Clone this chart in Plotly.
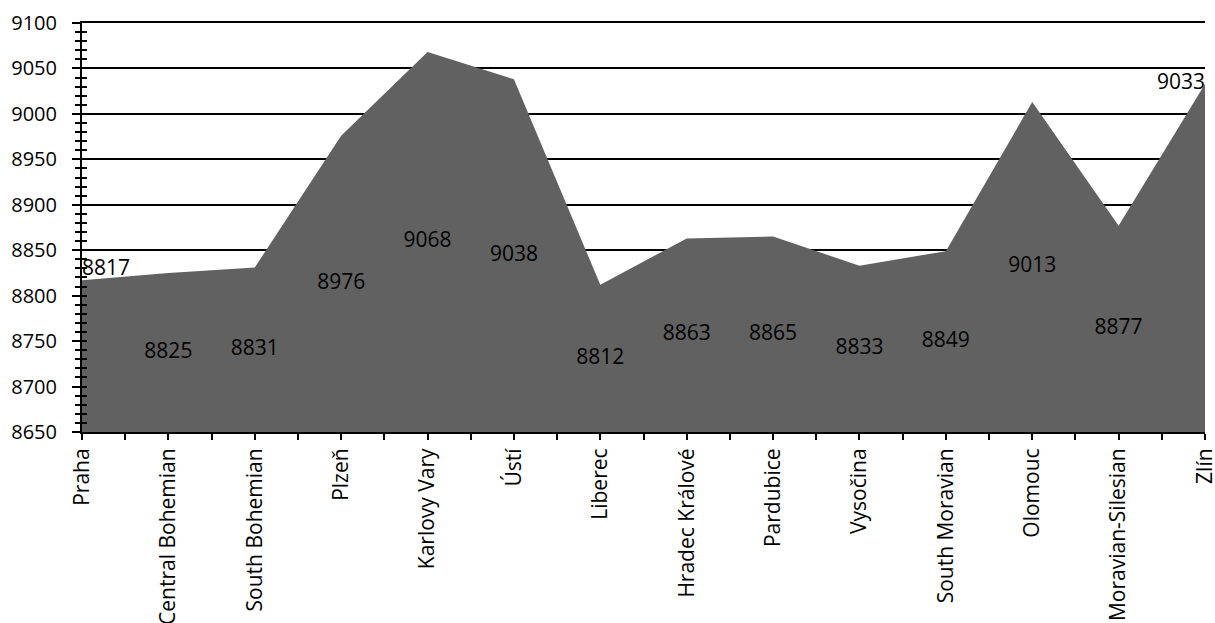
import plotly.graph_objects as go

regions = ["Praha", "Central Bohemian", "South Bohemian", "Plzeň", "Karlovy Vary",
           "Ústí", "Liberec", "Hradec Králové", "Pardubice", "Vysočina",
           "South Moravian", "Olomouc", "Moravian-Silesian", "Zlín"]
values = [8817, 8825, 8831, 8976, 9068, 9038, 8812, 8863, 8865, 8833, 8849, 9013, 8877, 9033]

y_min, y_max = 8650, 9100
xs = list(range(len(regions)))

FONT = "Open Sans"
fig = go.Figure()

# filled area
fig.add_trace(go.Scatter(
    x=xs, y=values, mode="lines", fill="tozeroy",
    line=dict(width=0, color="#616161"), fillcolor="#616161",
    hoverinfo="skip", showlegend=False,
))

# value labels: first and last at the point, the rest centred in the area
mid_x = xs[1:-1]
mid_y = [(v + y_min) / 2 for v in values[1:-1]]
fig.add_trace(go.Scatter(
    x=mid_x, y=mid_y, mode="text", text=[str(v) for v in values[1:-1]],
    textposition="middle center", textfont=dict(family=FONT, size=21, color="black"),
    hoverinfo="skip", showlegend=False,
))
fig.add_trace(go.Scatter(
    x=[xs[0]], y=[values[0]], mode="text", text=[str(values[0])],
    textposition="top right", textfont=dict(family=FONT, size=21, color="black"),
    hoverinfo="skip", showlegend=False, cliponaxis=False,
))
fig.add_trace(go.Scatter(
    x=[xs[-1]], y=[values[-1]], mode="text", text=[str(values[-1])],
    textposition="middle left", textfont=dict(family=FONT, size=21, color="black"),
    hoverinfo="skip", showlegend=False, cliponaxis=False,
))
# companion trace for the inner-tick axis
fig.add_trace(go.Scatter(x=[xs[0]], y=[y_min], yaxis="y2", mode="markers",
                         marker=dict(opacity=0), hoverinfo="skip", showlegend=False))

fig.update_layout(
    width=1215, height=623,
    margin=dict(l=82, r=10, t=23, b=191),
    paper_bgcolor="white", plot_bgcolor="white",
    font=dict(family=FONT, color="black"),
    xaxis=dict(
        range=[0, len(regions) - 1], tickmode="array", tickvals=xs, ticktext=regions,
        tickangle=-90, tickfont=dict(size=21), ticks="outside", ticklen=6,
        tickwidth=2, tickcolor="black", showline=True, linecolor="black", linewidth=2,
        showgrid=False, zeroline=False, ticklabelstandoff=0, automargin=False,
        ticklabeloverflow="allow",
        minor=dict(ticks="outside", ticklen=6, tickwidth=2, tickcolor="black",
                   tick0=0.5, dtick=1, showgrid=False),
    ),
    yaxis=dict(
        range=[y_min, y_max], dtick=50, tick0=y_min, tickfont=dict(size=20),
        ticks="outside", ticklen=8, tickwidth=2, tickcolor="black",
        showline=True, linecolor="black", linewidth=2, automargin=False,
        showgrid=True, gridcolor="black", gridwidth=1.5, zeroline=False,
        ticklabelstandoff=11,
        minor=dict(ticks="outside", ticklen=5, tickwidth=2, tickcolor="black",
                   dtick=10, showgrid=False),
    ),
    yaxis2=dict(
        range=[y_min, y_max], overlaying="y", side="left", dtick=50, tick0=y_min,
        showticklabels=False, ticks="inside", ticklen=5, tickwidth=2, tickcolor="black",
        showgrid=False, zeroline=False, showline=False, automargin=False,
        minor=dict(ticks="inside", ticklen=5, tickwidth=2, tickcolor="black",
                   dtick=10, showgrid=False),
    ),
)

# top boundary line at the 9100 level
fig.update_xaxes(mirror=True)

fig.write_html("out.html")
